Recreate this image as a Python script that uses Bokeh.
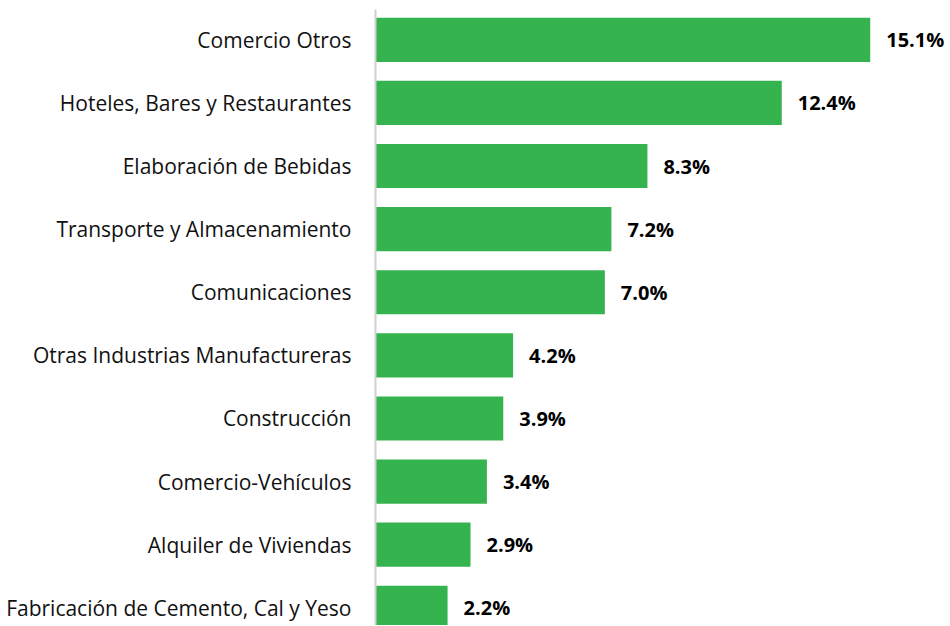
from bokeh.plotting import figure
from bokeh.models import ColumnDataSource, Range1d, LabelSet
from bokeh.core.properties import value
from bokeh.embed import file_html
from bokeh.resources import INLINE

categories = [
    "Comercio Otros",
    "Hoteles, Bares y Restaurantes",
    "Elaboración de Bebidas",
    "Transporte y Almacenamiento",
    "Comunicaciones",
    "Otras Industrias Manufactureras",
    "Construcción",
    "Comercio-Vehículos",
    "Alquiler de Viviendas",
    "Fabricación de Cemento, Cal y Yeso",
]
values = [15.1, 12.4, 8.3, 7.2, 7.0, 4.2, 3.9, 3.4, 2.9, 2.2]

n = len(categories)
ypos = [n - 1 - i for i in range(n)]
labels = [f"{v:.1f}%" for v in values]

src = ColumnDataSource(dict(y=ypos, v=values, lab=labels, cat=categories))

p = figure(width=949, height=625, output_backend="svg", toolbar_location=None,
           x_range=Range1d(0, 17.52), y_range=Range1d(-0.28, 9.48))
p.min_border_left = 375
p.min_border_right = 0
p.min_border_top = 9
p.min_border_bottom = 0
p.outline_line_color = None
p.xgrid.visible = False
p.ygrid.visible = False
p.xaxis.visible = False

p.hbar(y="y", right="v", left=0, height=0.7, source=src,
       fill_color="#34B34F", line_color=None)

ls = LabelSet(x="v", y="y", text="lab", source=src, x_offset=16,
              text_font=value("Open Sans"), text_font_style="bold",
              text_font_size=value("20px"),
              text_baseline="middle", text_align="left", text_color="#000000")
p.add_layout(ls)

ax = p.yaxis[0]
ax.ticker = ypos
ax.major_label_overrides = {y: c for y, c in zip(ypos, categories)}
ax.major_tick_line_color = None
ax.minor_tick_line_color = None
ax.major_label_standoff = 18
ax.major_label_text_font = "Open Sans"
ax.major_label_text_font_size = "21px"
ax.major_label_text_color = "#111111"
ax.axis_line_color = "#D0D0D0"
ax.axis_line_width = 2

open("out.html", "w").write(file_html(p, INLINE))
